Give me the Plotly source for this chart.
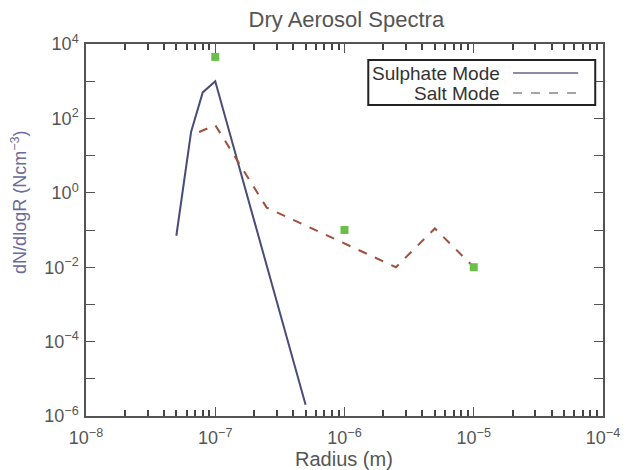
import math
import plotly.graph_objects as go

# Sulphate mode spectrum
sulphate_r = [5e-8, 6.5e-8, 8e-8, 1e-7, 5e-7]
sulphate_n = [0.07, 43, 500, 1000, 2e-6]

# Salt mode spectrum
salt_r = [7.5e-8, 1e-7, 2.5e-7, 2.5e-6, 5e-6, 1e-5]
salt_n = [43, 66, 0.4, 0.01, 0.11, 0.01]

# Observed points
obs_r = [1e-7, 1e-6, 1e-5]
obs_n = [4500, 0.1, 0.01]

x_exponents = [-8, -7, -6, -5, -4]
y_label_exponents = [-6, -4, -2, 0, 2, 4]
y_plain_exponents = [-5, -3, -1, 1, 3]

AXIS = "#555555"
TEXT = "#555555"
SUL = "#4b4b78"
SALT = "#a0503a"
GREEN = "#6cc04a"
FONT = "Liberation Sans, Arial, sans-serif"


def power_label(e):
    return f"10<sup>{'−' if e < 0 else ''}{abs(e)}</sup>"


x_tickvals = [10.0 ** e for e in x_exponents]
x_ticktext = [power_label(e) for e in x_exponents]
# minor ticks (2..9 per decade) placed on a companion axis measured in log10 units
x_minor_log = [e + math.log10(d) for e in x_exponents[:-1] for d in range(2, 10)]
y_tickvals = [10.0 ** e for e in y_label_exponents]
y_ticktext = [power_label(e) for e in y_label_exponents]
y_plain = [10.0 ** e for e in y_plain_exponents]

fig = go.Figure()
fig.add_trace(go.Scatter(x=sulphate_r, y=sulphate_n, mode="lines",
                         line=dict(color=SUL, width=2), name="Sulphate Mode"))
fig.add_trace(go.Scatter(x=salt_r, y=salt_n, mode="lines",
                         line=dict(color=SALT, width=2, dash="dash"), name="Salt Mode"))
# observations drawn on the companion axes (x in log10 units)
fig.add_trace(go.Scatter(x=[math.log10(v) for v in obs_r], y=obs_n, mode="markers",
                         xaxis="x2", yaxis="y2",
                         marker=dict(symbol="square", size=8, color=GREEN), name="Obs"))

common = dict(showgrid=False, zeroline=False, mirror="ticks", ticks="inside",
              tickfont=dict(family=FONT, size=18, color=TEXT))

fig.update_layout(
    xaxis=dict(type="log", range=[-8, -4], tickvals=x_tickvals, ticktext=x_ticktext,
               ticklen=9, tickwidth=1, tickcolor=AXIS, ticklabelstandoff=5,
               showline=True, linecolor=AXIS, linewidth=1.5, **common),
    yaxis=dict(type="log", range=[-6, 4], tickvals=y_tickvals, ticktext=y_ticktext,
               ticklen=9, tickwidth=1, tickcolor=AXIS, ticklabelstandoff=2,
               showline=True, linecolor=AXIS, linewidth=1.5, **common),
    xaxis2=dict(type="linear", range=[-8, -4], overlaying="x", anchor="y2", side="bottom",
                tickmode="array", tickvals=x_minor_log, showticklabels=False,
                ticklen=6, tickwidth=1.5, tickcolor="#444444", showline=False, **common),
    yaxis2=dict(type="log", range=[-6, 4], overlaying="y", anchor="x2", side="left",
                tickmode="array", tickvals=y_plain, showticklabels=False,
                ticklen=9, tickwidth=1, tickcolor=AXIS, showline=False, **common),
)

# Axis titles
fig.add_annotation(xref="paper", yref="paper", x=0.499, y=-0.115, text="Radius (m)", showarrow=False,
                   xanchor="center", yanchor="middle", font=dict(family=FONT, size=20, color=TEXT))
fig.add_annotation(xref="paper", yref="paper", x=-0.13, y=0.575, text="dN/dlogR (Ncm<sup>−3</sup>)",
                   showarrow=False, textangle=-90, xanchor="center", yanchor="middle",
                   font=dict(family=FONT, size=18, color="#6b6b9b"))

# Legend box: label on the left, line sample on the right
fig.add_shape(type="rect", xref="paper", yref="paper", x0=0.546, x1=0.985, y0=0.836, y1=0.957,
              line=dict(color="#222222", width=2), fillcolor="white", layer="above")
fig.add_annotation(xref="paper", yref="paper", x=0.805, y=0.922, text="Sulphate Mode", showarrow=False,
                   xanchor="right", yanchor="middle", font=dict(family=FONT, size=19, color="#333333"))
fig.add_annotation(xref="paper", yref="paper", x=0.805, y=0.868, text="Salt Mode", showarrow=False,
                   xanchor="right", yanchor="middle", font=dict(family=FONT, size=19, color="#333333"))
fig.add_shape(type="line", xref="paper", yref="paper", x0=0.826, x1=0.952, y0=0.922, y1=0.922,
              line=dict(color="#666688", width=1.5), layer="above")
fig.add_shape(type="line", xref="paper", yref="paper", x0=0.826, x1=0.952, y0=0.868, y1=0.868,
              line=dict(color="#888888", width=1.5, dash="dash"), layer="above")

fig.update_layout(
    width=632, height=470,
    margin=dict(l=86, r=21, t=44, b=54),
    paper_bgcolor="white", plot_bgcolor="white",
    showlegend=False,
    title=dict(text="Dry Aerosol Spectra", x=0.548, xanchor="center", y=0.96, yanchor="middle",
               font=dict(family=FONT, size=22, color=TEXT)),
)

fig.write_html("out.html")
